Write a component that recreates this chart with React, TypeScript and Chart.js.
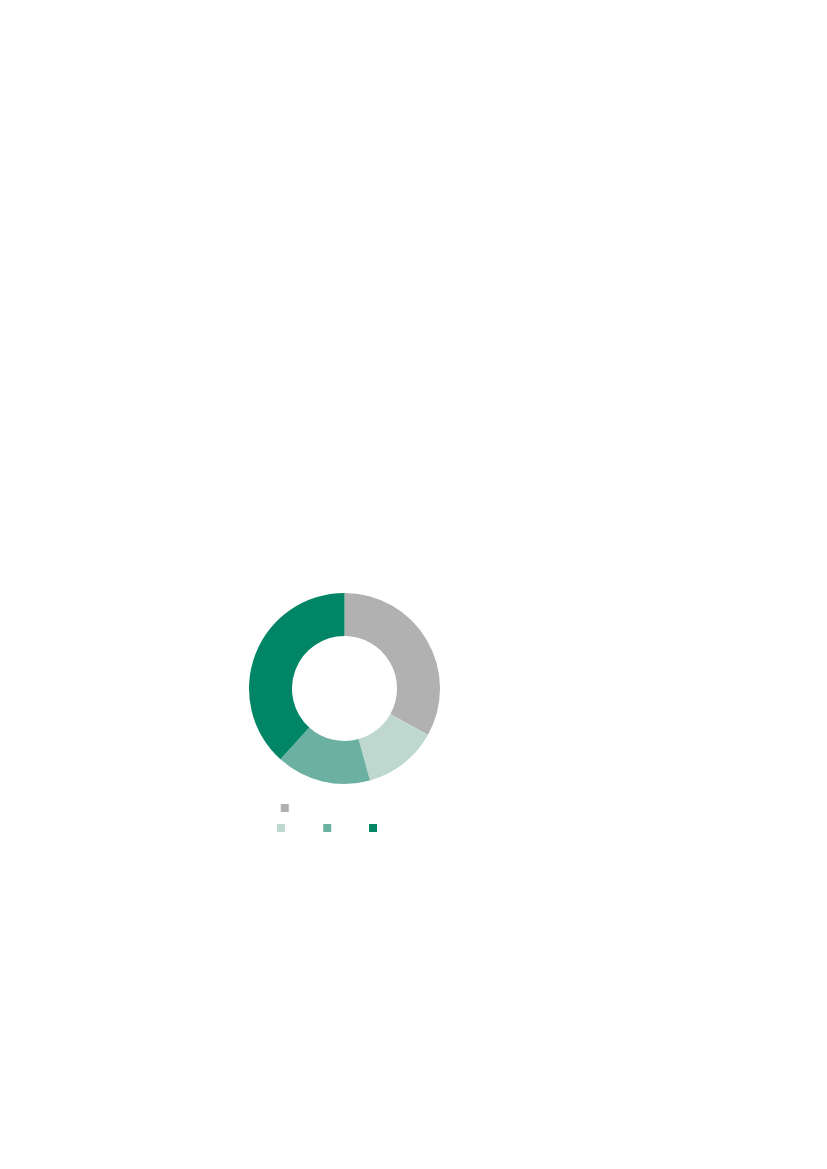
import React, { useEffect, useRef } from 'react';
import { Chart, registerables } from 'chart.js';

Chart.register(...registerables);

const categories = ['Non-renewable resources', 'Solar', 'Wind', 'Others'];
const shares = [33.1, 12.6, 16.0, 38.3];
const colors = ['#b1b1b1', '#bed8cf', '#6cb0a2', '#008666'];

const DonutChart: React.FC = () => {
  const canvasRef = useRef<HTMLCanvasElement | null>(null);
  const chartInstance = useRef<Chart | null>(null);

  useEffect(() => {
    if (!canvasRef.current) return;
    if (chartInstance.current) chartInstance.current.destroy();

    chartInstance.current = new Chart(canvasRef.current, {
      type: 'doughnut',
      data: {
        labels: categories,
        datasets: [
          {
            data: shares,
            backgroundColor: colors,
            borderWidth: 0,
          },
        ],
      },
      options: {
        animation: false,
        responsive: true,
        maintainAspectRatio: false,
        cutout: '55%',
        plugins: {
          tooltip: { enabled: false },
          legend: {
            position: 'bottom',
            labels: {
              boxWidth: 8,
              boxHeight: 8,
              padding: 10,
              color: '#ffffff',
              font: { size: 10 },
            },
          },
        },
      },
    });

    return () => {
      chartInstance.current?.destroy();
      chartInstance.current = null;
    };
  }, []);

  return <canvas ref={canvasRef}></canvas>;
};

export default function App() {
  return (
    <div style={{ position: 'absolute', left: 248.5, top: 584, width: 191, height: 259 }}>
      <DonutChart />
    </div>
  );
}
